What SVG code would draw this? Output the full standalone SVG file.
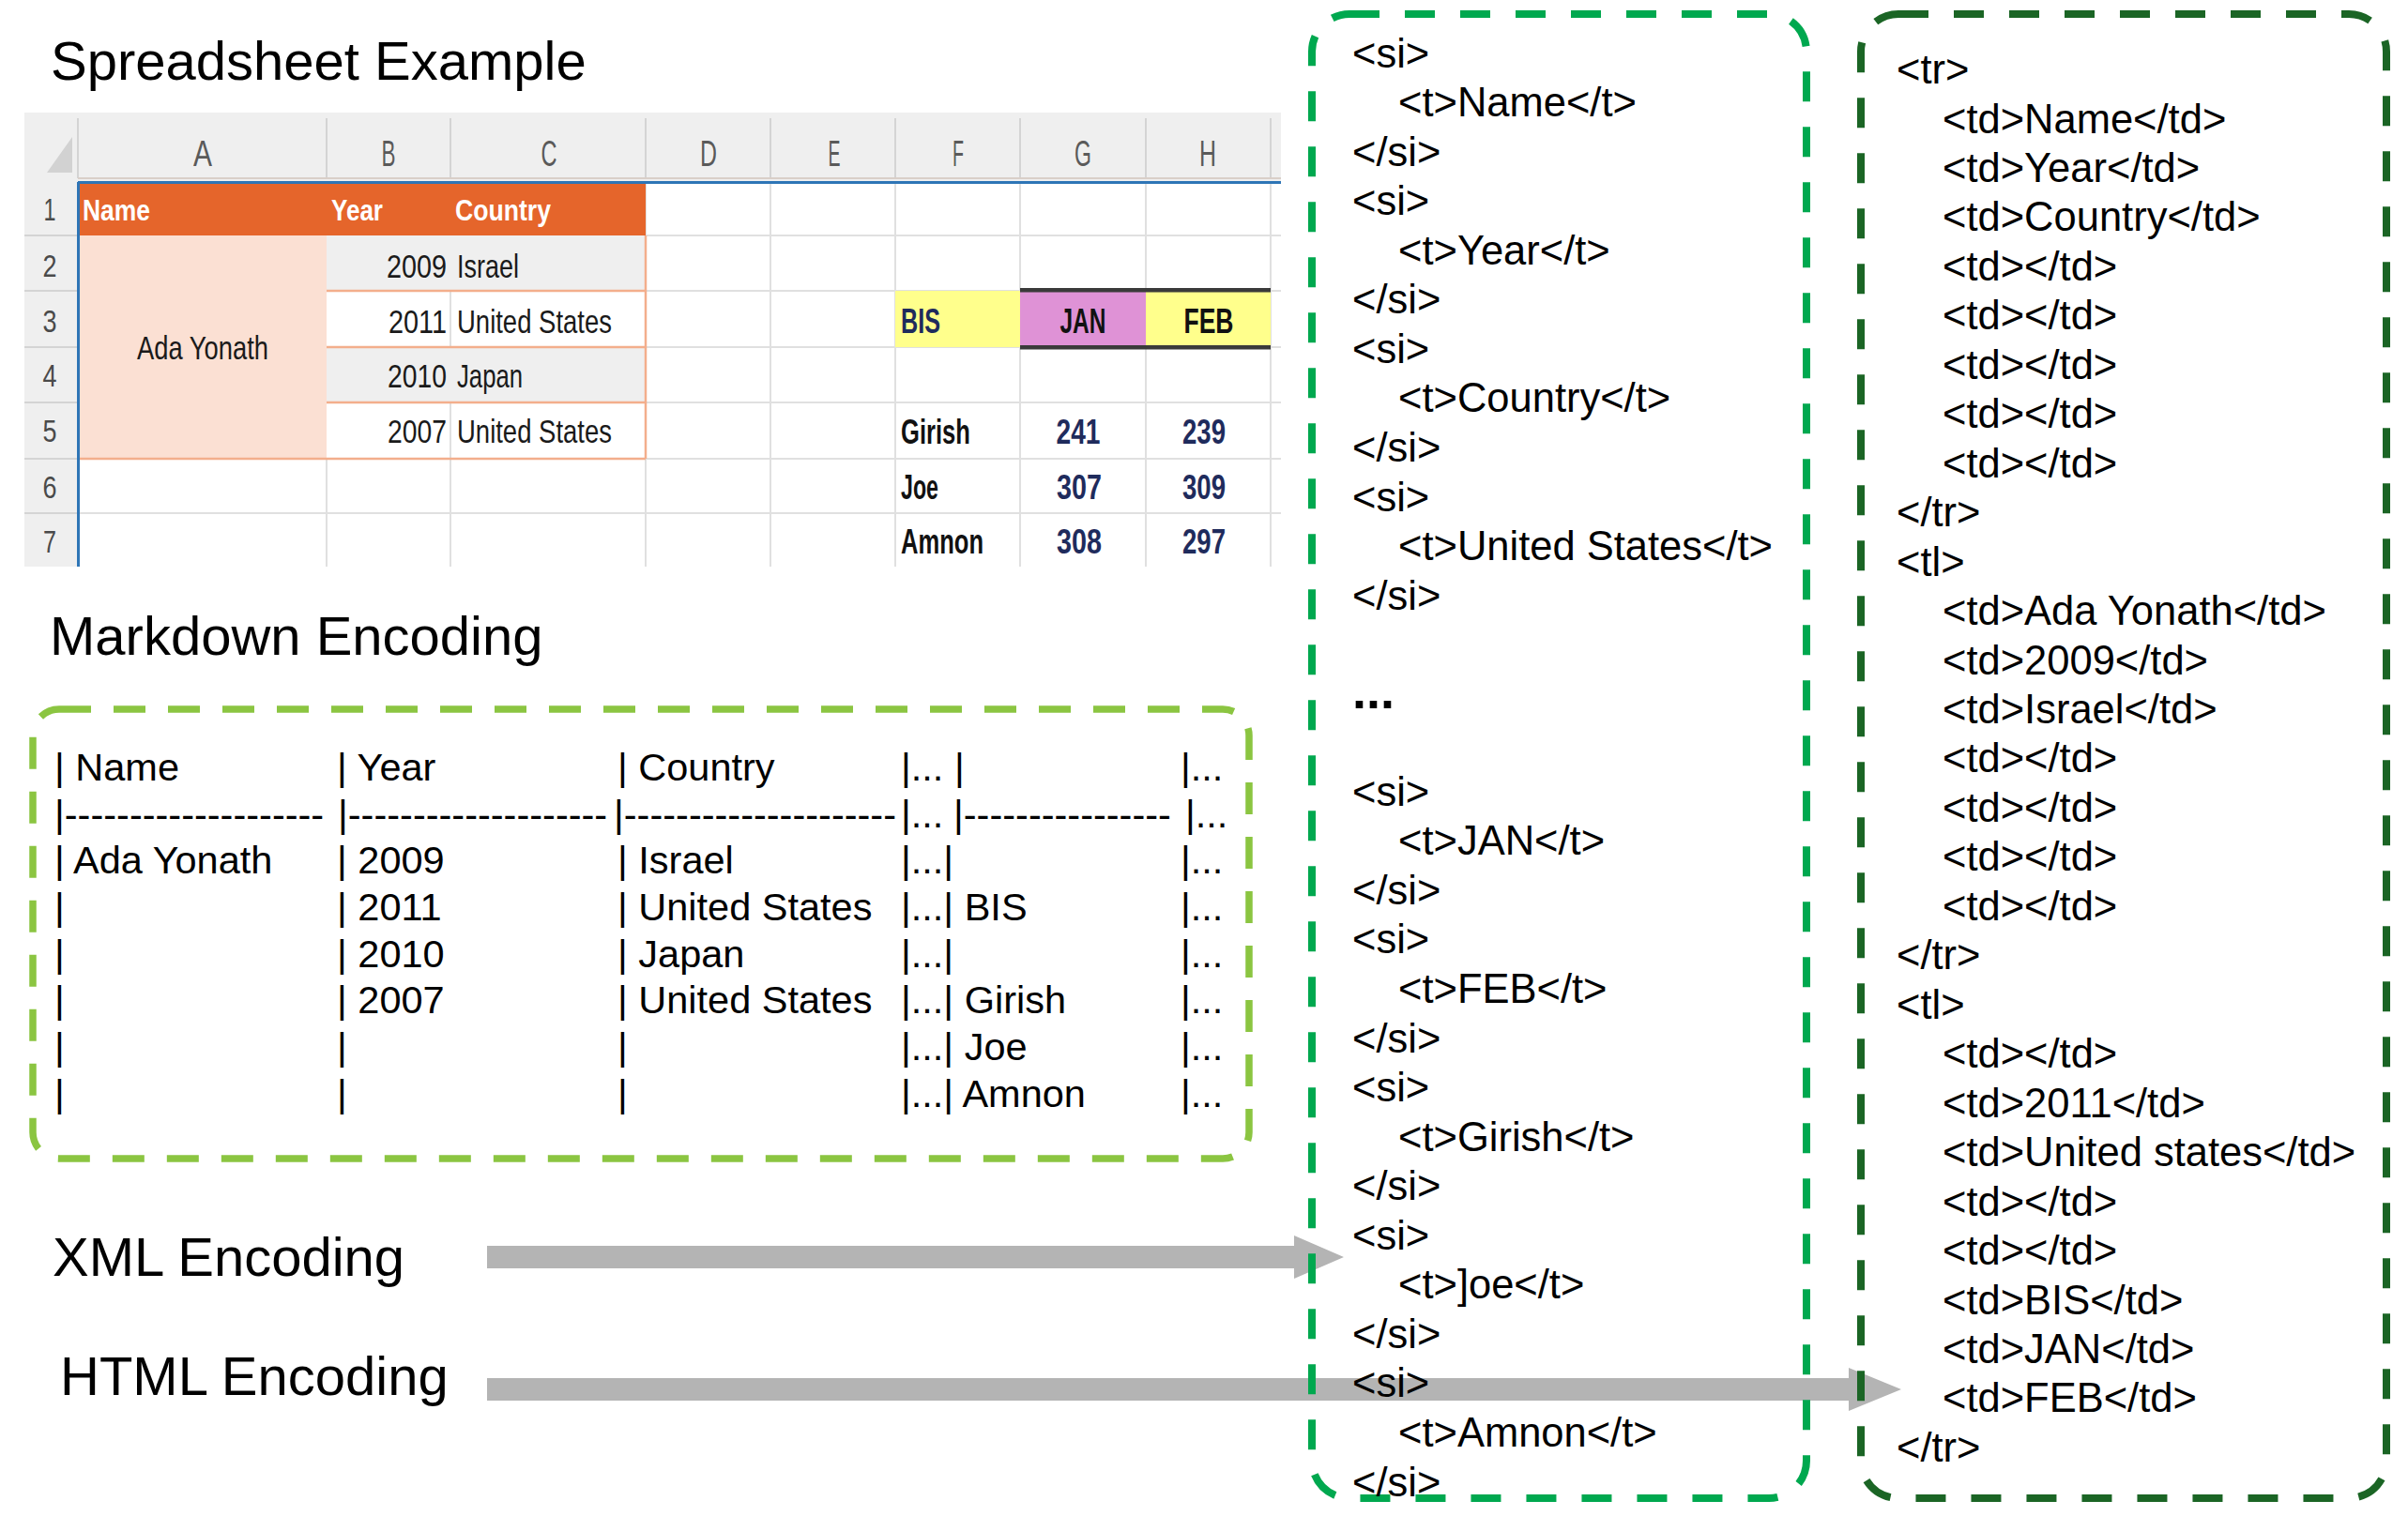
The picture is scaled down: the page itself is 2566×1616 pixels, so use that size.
<svg xmlns="http://www.w3.org/2000/svg" width="2566" height="1616" viewBox="0 0 2566 1616">
<style>
text { font-family: "Liberation Sans", Arial, sans-serif; }
.title { font-size: 58px; fill: #000; }
.md { font-size: 41.5px; fill: #000; }
.code { font-size: 43.5px; fill: #000; }
.colh { font-size: 38px; fill: #5a5a5a; text-anchor: middle; }
.rowh { font-size: 33px; fill: #4a4a4a; text-anchor: middle; }
.cell { font-size: 35px; fill: #1a1a1a; }
.hdr { font-size: 32px; font-weight: bold; fill: #ffffff; }
.bld { font-size: 36px; font-weight: bold; fill: #111111; }
.navy { fill: #1f2b5c; }
.grid { stroke: #e0e0e0; stroke-width: 2; }
.hgrid { stroke: #d4d4d4; stroke-width: 2; }
.salmon { stroke: #f3ae8c; stroke-width: 2.5; }
.box { fill: none; stroke-width: 8; stroke-dasharray: 32 27; }
.arrow { fill: #b4b4b4; }
</style>

<g id="connectors">
  <polygon class="arrow" points="519,1328 1379,1328 1379,1317 1432,1340 1379,1363 1379,1352 519,1352"/>
  <polygon class="arrow" points="519,1469 1970,1469 1970,1458 2026,1481 1970,1504 1970,1493 519,1493"/>
</g>

<g id="title-spreadsheet">
  <text class="title" x="54" y="85">Spreadsheet Example</text>
</g>

<g id="spreadsheet">
  <rect x="26" y="120" width="1339" height="484" fill="#ffffff"/>
  <rect x="26" y="120" width="1339" height="74" fill="#efefef"/>
  <rect x="26" y="120" width="57" height="484" fill="#efefef"/>
  <polygon points="50,184 77,184 77,146" fill="#d2d2d2"/>
  <g class="hgrid">
    <line x1="83" y1="126" x2="83" y2="190"/>
    <line x1="348" y1="126" x2="348" y2="190"/>
    <line x1="480" y1="126" x2="480" y2="190"/>
    <line x1="688" y1="126" x2="688" y2="190"/>
    <line x1="821" y1="126" x2="821" y2="190"/>
    <line x1="954" y1="126" x2="954" y2="190"/>
    <line x1="1087" y1="126" x2="1087" y2="190"/>
    <line x1="1221" y1="126" x2="1221" y2="190"/>
    <line x1="1354" y1="126" x2="1354" y2="190"/>
    <line x1="26" y1="251" x2="83" y2="251"/>
    <line x1="26" y1="310" x2="83" y2="310"/>
    <line x1="26" y1="370" x2="83" y2="370"/>
    <line x1="26" y1="429" x2="83" y2="429"/>
    <line x1="26" y1="489" x2="83" y2="489"/>
    <line x1="26" y1="547" x2="83" y2="547"/>
  </g>
  <line x1="83" y1="190" x2="1365" y2="190" stroke="#d9cfc8" stroke-width="2"/>
  <g class="grid">
    <line x1="83" y1="251" x2="1365" y2="251"/>
    <line x1="83" y1="310" x2="1365" y2="310"/>
    <line x1="83" y1="370" x2="1365" y2="370"/>
    <line x1="83" y1="429" x2="1365" y2="429"/>
    <line x1="83" y1="489" x2="1365" y2="489"/>
    <line x1="83" y1="547" x2="1365" y2="547"/>
    <line x1="348" y1="194" x2="348" y2="604"/>
    <line x1="480" y1="194" x2="480" y2="604"/>
    <line x1="688" y1="194" x2="688" y2="604"/>
    <line x1="821" y1="194" x2="821" y2="604"/>
    <line x1="954" y1="194" x2="954" y2="604"/>
    <line x1="1087" y1="194" x2="1087" y2="604"/>
    <line x1="1221" y1="194" x2="1221" y2="604"/>
    <line x1="1354" y1="194" x2="1354" y2="604"/>
  </g>
  <rect x="84" y="195" width="604" height="56" fill="#e5652b"/>
  <rect x="84" y="251" width="264" height="238" fill="#fbe0d3"/>
  <rect x="348" y="251" width="340" height="59" fill="#efefef"/>
  <rect x="348" y="311" width="340" height="58" fill="#ffffff"/>
  <rect x="348" y="370" width="340" height="59" fill="#efefef"/>
  <rect x="348" y="430" width="340" height="58" fill="#ffffff"/>
  <line class="grid" x1="480" y1="311" x2="480" y2="369"/>
  <line class="grid" x1="480" y1="430" x2="480" y2="488"/>
  <g class="salmon">
    <line x1="348" y1="310" x2="688" y2="310"/>
    <line x1="348" y1="370" x2="688" y2="370"/>
    <line x1="348" y1="429" x2="688" y2="429"/>
    <line x1="84" y1="489" x2="688" y2="489"/>
    <line x1="688" y1="251" x2="688" y2="489"/>
  </g>
  <rect x="954" y="310" width="133" height="60" fill="#ffff8c"/>
  <rect x="1087" y="310" width="134" height="60" fill="#df92d6"/>
  <rect x="1221" y="310" width="133" height="60" fill="#ffff8c"/>
  <rect x="1087" y="307" width="267" height="4.5" fill="#3a3a3a"/>
  <rect x="1087" y="368" width="267" height="4.5" fill="#3a3a3a"/>
  <line x1="83" y1="194.5" x2="1365" y2="194.5" stroke="#2e75b6" stroke-width="3"/>
  <line x1="83.5" y1="194" x2="83.5" y2="604" stroke="#2e75b6" stroke-width="3"/>

  <text class="colh" x="216" y="177" textLength="20" lengthAdjust="spacingAndGlyphs">A</text>
  <text class="colh" x="414" y="177" textLength="15" lengthAdjust="spacingAndGlyphs">B</text>
  <text class="colh" x="585" y="177" textLength="17" lengthAdjust="spacingAndGlyphs">C</text>
  <text class="colh" x="755" y="177" textLength="18" lengthAdjust="spacingAndGlyphs">D</text>
  <text class="colh" x="889" y="177" textLength="13" lengthAdjust="spacingAndGlyphs">E</text>
  <text class="colh" x="1021" y="177" textLength="12" lengthAdjust="spacingAndGlyphs">F</text>
  <text class="colh" x="1154" y="177" textLength="18" lengthAdjust="spacingAndGlyphs">G</text>
  <text class="colh" x="1287" y="177" textLength="18" lengthAdjust="spacingAndGlyphs">H</text>

  <text class="rowh" x="53" y="235" textLength="13" lengthAdjust="spacingAndGlyphs">1</text>
  <text class="rowh" x="53" y="295" textLength="15" lengthAdjust="spacingAndGlyphs">2</text>
  <text class="rowh" x="53" y="354" textLength="15" lengthAdjust="spacingAndGlyphs">3</text>
  <text class="rowh" x="53" y="412" textLength="15" lengthAdjust="spacingAndGlyphs">4</text>
  <text class="rowh" x="53" y="471" textLength="15" lengthAdjust="spacingAndGlyphs">5</text>
  <text class="rowh" x="53" y="531" textLength="15" lengthAdjust="spacingAndGlyphs">6</text>
  <text class="rowh" x="53" y="589" textLength="14" lengthAdjust="spacingAndGlyphs">7</text>

  <text class="hdr" x="88" y="235" textLength="72" lengthAdjust="spacingAndGlyphs">Name</text>
  <text class="hdr" x="353" y="235" textLength="55" lengthAdjust="spacingAndGlyphs">Year</text>
  <text class="hdr" x="485" y="235" textLength="102" lengthAdjust="spacingAndGlyphs">Country</text>

  <text class="cell" x="216" y="383" text-anchor="middle" textLength="140" lengthAdjust="spacingAndGlyphs">Ada Yonath</text>
  <text class="cell" x="476" y="296" text-anchor="end" textLength="64" lengthAdjust="spacingAndGlyphs">2009</text>
  <text class="cell" x="487" y="296" textLength="66" lengthAdjust="spacingAndGlyphs">Israel</text>
  <text class="cell" x="476" y="354.5" text-anchor="end" textLength="62" lengthAdjust="spacingAndGlyphs">2011</text>
  <text class="cell" x="487" y="354.5" textLength="165" lengthAdjust="spacingAndGlyphs">United States</text>
  <text class="cell" x="476" y="413" text-anchor="end" textLength="63" lengthAdjust="spacingAndGlyphs">2010</text>
  <text class="cell" x="487" y="413" textLength="70" lengthAdjust="spacingAndGlyphs">Japan</text>
  <text class="cell" x="476" y="472" text-anchor="end" textLength="63" lengthAdjust="spacingAndGlyphs">2007</text>
  <text class="cell" x="487" y="472" textLength="165" lengthAdjust="spacingAndGlyphs">United States</text>

  <text class="bld navy" x="960" y="355" textLength="42" lengthAdjust="spacingAndGlyphs">BIS</text>
  <text class="bld" x="1154" y="355" text-anchor="middle" textLength="49" lengthAdjust="spacingAndGlyphs">JAN</text>
  <text class="bld" x="1288" y="355" text-anchor="middle" textLength="53" lengthAdjust="spacingAndGlyphs">FEB</text>

  <text class="bld" x="960" y="473" textLength="74" lengthAdjust="spacingAndGlyphs">Girish</text>
  <text class="bld navy" x="1149" y="473" text-anchor="middle" textLength="47" lengthAdjust="spacingAndGlyphs">241</text>
  <text class="bld navy" x="1283" y="473" text-anchor="middle" textLength="46" lengthAdjust="spacingAndGlyphs">239</text>
  <text class="bld" x="960" y="532" textLength="40" lengthAdjust="spacingAndGlyphs">Joe</text>
  <text class="bld navy" x="1150" y="532" text-anchor="middle" textLength="48" lengthAdjust="spacingAndGlyphs">307</text>
  <text class="bld navy" x="1283" y="532" text-anchor="middle" textLength="46" lengthAdjust="spacingAndGlyphs">309</text>
  <text class="bld" x="960" y="590" textLength="88" lengthAdjust="spacingAndGlyphs">Amnon</text>
  <text class="bld navy" x="1150" y="590" text-anchor="middle" textLength="48" lengthAdjust="spacingAndGlyphs">308</text>
  <text class="bld navy" x="1283" y="590" text-anchor="middle" textLength="46" lengthAdjust="spacingAndGlyphs">297</text>
</g>

<g id="title-markdown">
  <text class="title" x="53" y="698">Markdown Encoding</text>
</g>

<g id="markdown">
  <rect x="35" y="756" width="1296" height="479" rx="28" ry="28" fill="none" stroke="#8bc541" stroke-width="7.5" stroke-dasharray="34 24"/>
  <g class="md">
    <text x="58" y="832">| Name</text>
    <text x="359" y="832">| Year</text>
    <text x="658" y="832">| Country</text>
    <text x="960" y="832">|... |</text>
    <text x="1258" y="832">|...</text>

    <text x="58" y="882">|--------------------</text>
    <text x="360" y="882">|--------------------</text>
    <text x="654" y="882">|---------------------</text>
    <text x="960" y="882">|...</text>
    <text x="1016" y="882">|----------------</text>
    <text x="1263" y="882">|...</text>

    <text x="58" y="931">| Ada Yonath</text>
    <text x="359" y="931">| 2009</text>
    <text x="658" y="931">| Israel</text>
    <text x="960" y="931">|...|</text>
    <text x="1258" y="931">|...</text>

    <text x="58" y="981">|</text>
    <text x="359" y="981">| 2011</text>
    <text x="658" y="981">| United States</text>
    <text x="960" y="981">|...| BIS</text>
    <text x="1258" y="981">|...</text>

    <text x="58" y="1031">|</text>
    <text x="359" y="1031">| 2010</text>
    <text x="658" y="1031">| Japan</text>
    <text x="960" y="1031">|...|</text>
    <text x="1258" y="1031">|...</text>

    <text x="58" y="1080">|</text>
    <text x="359" y="1080">| 2007</text>
    <text x="658" y="1080">| United States</text>
    <text x="960" y="1080">|...| Girish</text>
    <text x="1258" y="1080">|...</text>

    <text x="58" y="1130">|</text>
    <text x="359" y="1130">|</text>
    <text x="658" y="1130">|</text>
    <text x="960" y="1130">|...| Joe</text>
    <text x="1258" y="1130">|...</text>

    <text x="58" y="1180">|</text>
    <text x="359" y="1180">|</text>
    <text x="658" y="1180">|</text>
    <text x="960" y="1180">|...| Amnon</text>
    <text x="1258" y="1180">|...</text>
  </g>
</g>

<g id="label-xml">
  <text class="title" x="56" y="1360">XML Encoding</text>
</g>
<g id="label-html">
  <text class="title" x="64" y="1487">HTML Encoding</text>
</g>

<g id="xml-box">
  <rect class="box" x="1398" y="15" width="527" height="1582" rx="40" ry="40" stroke="#00a84f"/>
  <g class="code">
    <text x="1441" y="71.5">&lt;si&gt;</text>
    <text x="1490" y="124">&lt;t&gt;Name&lt;/t&gt;</text>
    <text x="1441" y="176.6">&lt;/si&gt;</text>
    <text x="1441" y="229.2">&lt;si&gt;</text>
    <text x="1490" y="281.7">&lt;t&gt;Year&lt;/t&gt;</text>
    <text x="1441" y="334.3">&lt;/si&gt;</text>
    <text x="1441" y="386.8">&lt;si&gt;</text>
    <text x="1490" y="439.4">&lt;t&gt;Country&lt;/t&gt;</text>
    <text x="1441" y="491.9">&lt;/si&gt;</text>
    <text x="1441" y="544.5">&lt;si&gt;</text>
    <text x="1490" y="597">&lt;t&gt;United States&lt;/t&gt;</text>
    <text x="1441" y="649.6">&lt;/si&gt;</text>
    <text x="1441" y="754.7" style="font-weight:bold;font-size:54px">...</text>
    <text x="1441" y="858.8">&lt;si&gt;</text>
    <text x="1490" y="911.3">&lt;t&gt;JAN&lt;/t&gt;</text>
    <text x="1441" y="963.9">&lt;/si&gt;</text>
    <text x="1441" y="1016.4">&lt;si&gt;</text>
    <text x="1490" y="1069">&lt;t&gt;FEB&lt;/t&gt;</text>
    <text x="1441" y="1121.5">&lt;/si&gt;</text>
    <text x="1441" y="1174">&lt;si&gt;</text>
    <text x="1490" y="1226.6">&lt;t&gt;Girish&lt;/t&gt;</text>
    <text x="1441" y="1279.2">&lt;/si&gt;</text>
    <text x="1441" y="1331.7">&lt;si&gt;</text>
    <text x="1490" y="1384.3">&lt;t&gt;]oe&lt;/t&gt;</text>
    <text x="1441" y="1436.8">&lt;/si&gt;</text>
    <text x="1441" y="1489.4">&lt;si&gt;</text>
    <text x="1490" y="1541.9">&lt;t&gt;Amnon&lt;/t&gt;</text>
    <text x="1441" y="1594.5">&lt;/si&gt;</text>
  </g>
</g>

<g id="html-box">
  <rect class="box" x="1983" y="15" width="560" height="1582" rx="40" ry="40" stroke="#1b6525"/>
  <g class="code">
    <text x="2021" y="89">&lt;tr&gt;</text>
    <text x="2070" y="141.5">&lt;td&gt;Name&lt;/td&gt;</text>
    <text x="2070" y="193.9">&lt;td&gt;Year&lt;/td&gt;</text>
    <text x="2070" y="246.4">&lt;td&gt;Country&lt;/td&gt;</text>
    <text x="2070" y="298.8">&lt;td&gt;&lt;/td&gt;</text>
    <text x="2070" y="351.3">&lt;td&gt;&lt;/td&gt;</text>
    <text x="2070" y="403.8">&lt;td&gt;&lt;/td&gt;</text>
    <text x="2070" y="456.2">&lt;td&gt;&lt;/td&gt;</text>
    <text x="2070" y="508.7">&lt;td&gt;&lt;/td&gt;</text>
    <text x="2021" y="561.1">&lt;/tr&gt;</text>
    <text x="2021" y="613.6">&lt;tl&gt;</text>
    <text x="2070" y="666.1">&lt;td&gt;Ada Yonath&lt;/td&gt;</text>
    <text x="2070" y="718.5">&lt;td&gt;2009&lt;/td&gt;</text>
    <text x="2070" y="771">&lt;td&gt;Israel&lt;/td&gt;</text>
    <text x="2070" y="823.4">&lt;td&gt;&lt;/td&gt;</text>
    <text x="2070" y="875.9">&lt;td&gt;&lt;/td&gt;</text>
    <text x="2070" y="928.4">&lt;td&gt;&lt;/td&gt;</text>
    <text x="2070" y="980.8">&lt;td&gt;&lt;/td&gt;</text>
    <text x="2021" y="1033.3">&lt;/tr&gt;</text>
    <text x="2021" y="1085.7">&lt;tl&gt;</text>
    <text x="2070" y="1138.2">&lt;td&gt;&lt;/td&gt;</text>
    <text x="2070" y="1190.7">&lt;td&gt;2011&lt;/td&gt;</text>
    <text x="2070" y="1243.1">&lt;td&gt;United states&lt;/td&gt;</text>
    <text x="2070" y="1295.6">&lt;td&gt;&lt;/td&gt;</text>
    <text x="2070" y="1348">&lt;td&gt;&lt;/td&gt;</text>
    <text x="2070" y="1400.5">&lt;td&gt;BIS&lt;/td&gt;</text>
    <text x="2070" y="1453">&lt;td&gt;JAN&lt;/td&gt;</text>
    <text x="2070" y="1505.4">&lt;td&gt;FEB&lt;/td&gt;</text>
    <text x="2021" y="1557.9">&lt;/tr&gt;</text>
  </g>
</g>
</svg>
